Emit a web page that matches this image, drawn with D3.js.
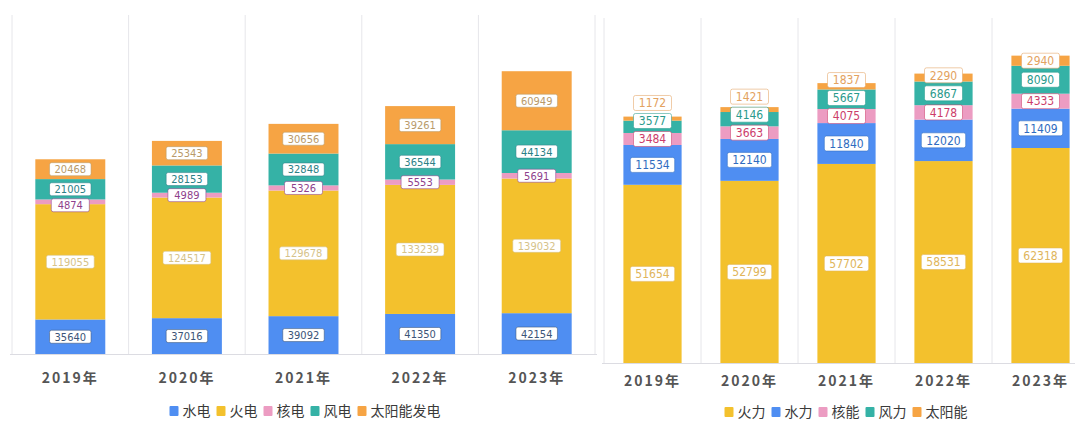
<!DOCTYPE html>
<html>
<head>
<meta charset="utf-8">
<script src="https://cdn.jsdelivr.net/npm/d3@7"></script>
<style>
  body { margin: 0; background: #fff; }
  svg { display: block; }
</style>
</head>
<body>
<div id="chart"></div>
<script>
// years on both charts
const years = ["2019年", "2020年", "2021年", "2022年", "2023年"];

// left chart: 发电量 by source
const leftNames = ["水电", "火电", "核电", "风电", "太阳能发电"];
const leftHydro = [35640, 37016, 39092, 41350, 42154];
const leftThermal = [119055, 124517, 129678, 133239, 139032];
const leftNuclear = [4874, 4989, 5326, 5553, 5691];
const leftWind = [21005, 28153, 32848, 36544, 44134];
const leftSolar = [20468, 25343, 30656, 39261, 60949];

// right chart: 装机 by source (order differs)
const rightNames = ["火力", "水力", "核能", "风力", "太阳能"];
const rightThermal = [51654, 52799, 57702, 58531, 62318];
const rightHydro = [11534, 12140, 11840, 12020, 11409];
const rightNuclear = [3484, 3663, 4075, 4178, 4333];
const rightWind = [3577, 4146, 5667, 6867, 8090];
const rightSolar = [1172, 1421, 1837, 2290, 2940];

const BLUE = "#4f8ef2", YELLOW = "#f3c12d", PINK = "#ec9cc2", TEAL = "#35b2a6", ORANGE = "#f6a444";

const W = 1075, H = 421;
const svg = d3.select("#chart").append("svg")
    .attr("width", W)
    .attr("height", H);

drawChart({
    names: leftNames,
    values: [leftHydro, leftThermal, leftNuclear, leftWind, leftSolar],
    colors: [BLUE, YELLOW, PINK, TEAL, ORANGE],
    textColors: ["#3b5478", "#d6c38a", "#8e3f8c", "#2d7f86", "#b89a6a"],
    xRange: [12, 595], yRange: [354, 15], yMax: 350000,
    labelH: 13, minSep: 16, push: "down", fontSize: 11,
    yearY: 383, legendX: 305, legendY: 411
});

drawChart({
    names: rightNames,
    values: [rightThermal, rightHydro, rightNuclear, rightWind, rightSolar],
    colors: [YELLOW, BLUE, PINK, TEAL, ORANGE],
    textColors: ["#e0b55a", "#2f6cc0", "#cc3d6b", "#2a9a8c", "#e3a260"],
    xRange: [604, 1089], yRange: [363, 18], yMax: 100000,
    labelH: 15, minSep: 18, push: "up", fontSize: 12,
    yearY: 386, legendX: 846, legendY: 412
});

function drawChart(cfg) {
    const rows = years.map((y, i) => {
        const r = { year: y };
        cfg.names.forEach((n, k) => r[n] = cfg.values[k][i]);
        return r;
    });
    const stacked = d3.stack().keys(cfg.names)(rows);

    const x = d3.scaleBand()
        .domain(years)
        .range(cfg.xRange)
        .paddingInner(0.4)
        .paddingOuter(0.2);

    const band = d3.scaleBand().domain(years).range(cfg.xRange);

    const y = d3.scaleLinear()
        .domain([0, cfg.yMax])
        .range(cfg.yRange);

    const g = svg.append("g");

    // vertical grid lines at band edges
    const edges = years.map(d => band(d)).concat([cfg.xRange[1]]);
    g.selectAll(".grid")
        .data(edges)
        .enter().append("line")
        .attr("x1", d => d).attr("x2", d => d)
        .attr("y1", cfg.yRange[1]).attr("y2", cfg.yRange[0])
        .attr("stroke", "#e6e6ea")
        .attr("stroke-width", 1);

    // bars
    stacked.forEach((layer, k) => {
        g.selectAll(null)
            .data(layer)
            .enter().append("rect")
            .attr("x", d => x(d.data.year))
            .attr("width", x.bandwidth())
            .attr("y", d => y(d[1]))
            .attr("height", d => y(d[0]) - y(d[1]))
            .attr("fill", cfg.colors[k]);
    });

    // baseline
    g.append("line")
        .attr("x1", cfg.xRange[0] - 2).attr("x2", Math.min(cfg.xRange[1] + 2, W))
        .attr("y1", cfg.yRange[0] + 0.5).attr("y2", cfg.yRange[0] + 0.5)
        .attr("stroke", "#dcdce2");

    // labels, shifted so boxes don't overlap
    years.forEach((yr, i) => {
        let labels = stacked.map((layer, k) => ({
            k: k,
            v: layer[i].data[cfg.names[k]],
            cy: (y(layer[i][0]) + y(layer[i][1])) / 2
        }));
        if (cfg.push === "up") {
            for (let j = 1; j < labels.length; j++) {
                labels[j].cy = Math.min(labels[j].cy, labels[j - 1].cy - cfg.minSep);
            }
        } else {
            for (let j = labels.length - 2; j >= 0; j--) {
                labels[j].cy = Math.max(labels[j].cy, labels[j + 1].cy + cfg.minSep);
            }
        }
        const cx = x(yr) + x.bandwidth() / 2;
        labels.forEach(l => {
            const lg = g.append("g").attr("transform", `translate(${cx},${l.cy})`);
            const box = lg.append("rect");
            const t = lg.append("text")
                .attr("text-anchor", "middle")
                .attr("dy", "0.36em")
                .attr("font-family", "'Liberation Sans Narrow', 'DejaVu Sans Condensed', 'Arial Narrow', sans-serif")
                .attr("font-size", cfg.fontSize)
                .attr("fill", cfg.textColors[l.k])
                .text(l.v);
            const tw = Math.max(t.node().getComputedTextLength() + 10, 38);
            box.attr("x", -tw / 2).attr("y", -cfg.labelH / 2)
                .attr("width", tw).attr("height", cfg.labelH)
                .attr("rx", 2)
                .attr("fill", "#fff")
                .attr("stroke", cfg.textColors[l.k])
                .attr("stroke-opacity", 0.55)
                .attr("stroke-width", 1);
        });
    });

    // year labels
    g.selectAll(".year")
        .data(years)
        .enter().append("text")
        .attr("x", d => x(d) + x.bandwidth() / 2)
        .attr("y", cfg.yearY)
        .attr("text-anchor", "middle")
        .attr("font-family", "'Noto Sans CJK SC', sans-serif")
        .attr("font-size", 14)
        .attr("font-weight", "bold")
        .attr("letter-spacing", 2)
        .attr("fill", "#555")
        .text(d => d);

    // legend
    const leg = g.append("g");
    let offset = 0;
    cfg.names.forEach((n, k) => {
        const item = leg.append("g").attr("transform", `translate(${offset},0)`);
        item.append("rect")
            .attr("x", 0).attr("y", -5)
            .attr("width", 9).attr("height", 10)
            .attr("rx", 1)
            .attr("fill", cfg.colors[k]);
        const t = item.append("text")
            .attr("x", 13)
            .attr("dy", "0.36em")
            .attr("font-family", "'Noto Sans CJK SC', sans-serif")
            .attr("font-size", 14)
            .attr("fill", "#3a3a3a")
            .text(n);
        offset += 13 + t.node().getComputedTextLength() + 6;
    });
    offset -= 6;
    leg.attr("transform", `translate(${cfg.legendX - offset / 2},${cfg.legendY})`);
}
</script>
</body>
</html>
